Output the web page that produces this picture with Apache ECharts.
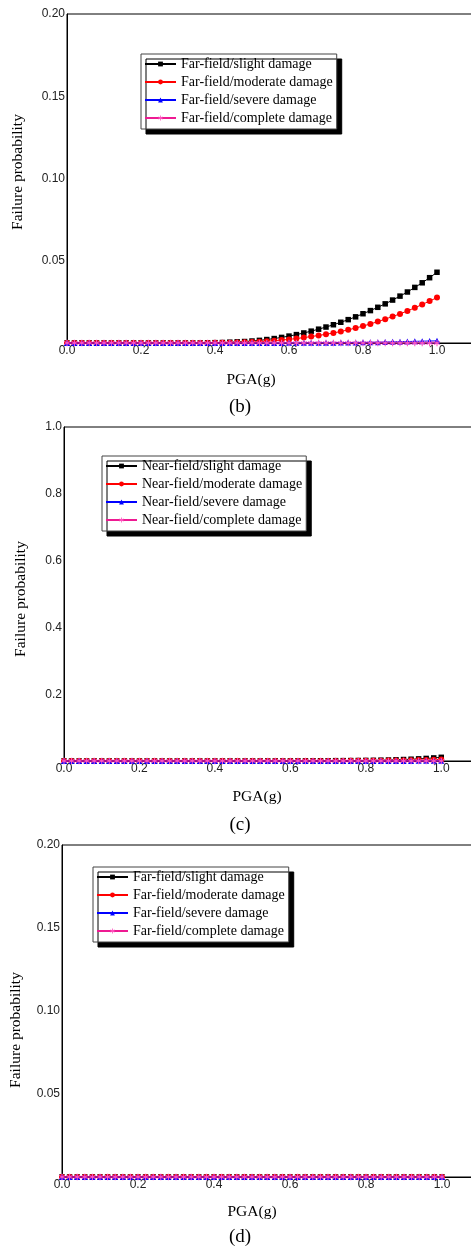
<!DOCTYPE html>
<html>
<head>
<meta charset="utf-8">
<script src="https://cdn.jsdelivr.net/npm/echarts@6/dist/echarts.min.js"></script>
<style>
html, body { margin: 0; padding: 0; background: #fff; }
#chart-panel { width: 471px; height: 1247px; }
</style>
</head>
<body>
<div id="chart-panel"></div>
<script>
/* PGA(g) sample points, shared by all three panels. */
const PGA = [
    0.00, 0.02, 0.04, 0.06, 0.08, 0.10, 0.12, 0.14, 0.16, 0.18,
    0.20, 0.22, 0.24, 0.26, 0.28, 0.30, 0.32, 0.34, 0.36, 0.38,
    0.40, 0.42, 0.44, 0.46, 0.48, 0.50, 0.52, 0.54, 0.56, 0.58,
    0.60, 0.62, 0.64, 0.66, 0.68, 0.70, 0.72, 0.74, 0.76, 0.78,
    0.80, 0.82, 0.84, 0.86, 0.88, 0.90, 0.92, 0.94, 0.96, 0.98,
    1.00
]

/* (b) far-field */
const farSlightB = [
    0, 0, 0, 0, 0, 0, 0, 0, 0, 0,
    0, 0, 0, 0, 0, 0, 0, 0, 0, 0.0001,
    0.0002, 0.0003, 0.0005, 0.0007, 0.0009, 0.0012, 0.0016, 0.0021, 0.0027, 0.0034,
    0.0042, 0.0051, 0.0061, 0.0072, 0.0084, 0.0097, 0.0111, 0.0126, 0.0142, 0.0159,
    0.0178, 0.0197, 0.0217, 0.0238, 0.0261, 0.0285, 0.0310, 0.0338, 0.0366, 0.0397,
    0.0430
]
const farModerateB = [
    0, 0, 0, 0, 0, 0, 0, 0, 0, 0,
    0, 0, 0, 0, 0, 0, 0, 0, 0, 0,
    0.0001, 0.0001, 0.0002, 0.0003, 0.0004, 0.0006, 0.0008, 0.0011, 0.0014, 0.0018,
    0.0022, 0.0027, 0.0033, 0.0039, 0.0046, 0.0053, 0.0061, 0.0070, 0.0080, 0.0091,
    0.0103, 0.0116, 0.0130, 0.0145, 0.0161, 0.0177, 0.0195, 0.0214, 0.0234, 0.0255,
    0.0276
]
const farSevereB = [
    0, 0, 0, 0, 0, 0, 0, 0, 0, 0,
    0, 0, 0, 0, 0, 0, 0, 0, 0, 0,
    0, 0, 0, 0, 0, 0, 0, 0, 0, 0,
    0.0001, 0.0001, 0.0001, 0.0001, 0.0002, 0.0002, 0.0002, 0.0003, 0.0003, 0.0003,
    0.0004, 0.0004, 0.0005, 0.0006, 0.0007, 0.0008, 0.0009, 0.0010, 0.0011, 0.0012,
    0.0013
]
const farCompleteB = [
    0, 0, 0, 0, 0, 0, 0, 0, 0, 0,
    0, 0, 0, 0, 0, 0, 0, 0, 0, 0,
    0, 0, 0, 0, 0, 0, 0, 0, 0, 0,
    0, 0, 0, 0, 0, 0, 0, 0, 0, 0,
    0, 0, 0, 0, 0, 0, 0, 0, 0, 0,
    0
]

/* (c) near-field */
const nearSlightC = [
    0, 0, 0, 0, 0, 0, 0, 0, 0, 0,
    0, 0, 0, 0, 0, 0, 0, 0, 0, 0,
    0, 0, 0.0001, 0.0001, 0.0001, 0.0001, 0.0001, 0.0002, 0.0002, 0.0002,
    0.0003, 0.0004, 0.0005, 0.0006, 0.0007, 0.0008, 0.0010, 0.0011, 0.0013, 0.0015,
    0.0018, 0.0021, 0.0025, 0.0030, 0.0036, 0.0044, 0.0053, 0.0064, 0.0077, 0.0092,
    0.0110
]
const nearModerateC = [
    0, 0, 0, 0, 0, 0, 0, 0, 0, 0,
    0, 0, 0, 0, 0, 0, 0, 0, 0, 0,
    0, 0, 0, 0, 0, 0, 0, 0, 0, 0,
    0.0001, 0.0001, 0.0001, 0.0002, 0.0002, 0.0002, 0.0003, 0.0003, 0.0004, 0.0005,
    0.0006, 0.0008, 0.0010, 0.0012, 0.0015, 0.0018, 0.0022, 0.0027, 0.0033, 0.0040,
    0.0048
]
const nearSevereC = [
    0, 0, 0, 0, 0, 0, 0, 0, 0, 0,
    0, 0, 0, 0, 0, 0, 0, 0, 0, 0,
    0, 0, 0, 0, 0, 0, 0, 0, 0, 0,
    0, 0, 0, 0, 0, 0, 0, 0, 0, 0,
    0.0001, 0.0001, 0.0001, 0.0002, 0.0002, 0.0003, 0.0003, 0.0004, 0.0004, 0.0005,
    0.0006
]
const nearCompleteC = [
    0, 0, 0, 0, 0, 0, 0, 0, 0, 0,
    0, 0, 0, 0, 0, 0, 0, 0, 0, 0,
    0, 0, 0, 0, 0, 0, 0, 0, 0, 0,
    0, 0, 0, 0, 0, 0, 0, 0, 0, 0,
    0, 0, 0, 0, 0, 0, 0, 0, 0, 0,
    0
]

/* (d) far-field, all flat on zero */
const farSlightD = [
    0, 0, 0, 0, 0, 0, 0, 0, 0, 0,
    0, 0, 0, 0, 0, 0, 0, 0, 0, 0,
    0, 0, 0, 0, 0, 0, 0, 0, 0, 0,
    0, 0, 0, 0, 0, 0, 0, 0, 0, 0,
    0, 0, 0, 0, 0, 0, 0, 0, 0, 0,
    0
]
const farModerateD = [
    0, 0, 0, 0, 0, 0, 0, 0, 0, 0,
    0, 0, 0, 0, 0, 0, 0, 0, 0, 0,
    0, 0, 0, 0, 0, 0, 0, 0, 0, 0,
    0, 0, 0, 0, 0, 0, 0, 0, 0, 0,
    0, 0, 0, 0, 0, 0, 0, 0, 0, 0,
    0
]
const farSevereD = [
    0, 0, 0, 0, 0, 0, 0, 0, 0, 0,
    0, 0, 0, 0, 0, 0, 0, 0, 0, 0,
    0, 0, 0, 0, 0, 0, 0, 0, 0, 0,
    0, 0, 0, 0, 0, 0, 0, 0, 0, 0,
    0, 0, 0, 0, 0, 0, 0, 0, 0, 0,
    0
]
const farCompleteD = [
    0, 0, 0, 0, 0, 0, 0, 0, 0, 0,
    0, 0, 0, 0, 0, 0, 0, 0, 0, 0,
    0, 0, 0, 0, 0, 0, 0, 0, 0, 0,
    0, 0, 0, 0, 0, 0, 0, 0, 0, 0,
    0, 0, 0, 0, 0, 0, 0, 0, 0, 0,
    0
]

const FAR_NAMES = ['Far-field/slight damage', 'Far-field/moderate damage', 'Far-field/severe damage', 'Far-field/complete damage']
const NEAR_NAMES = ['Near-field/slight damage', 'Near-field/moderate damage', 'Near-field/severe damage', 'Near-field/complete damage']
const CAPTIONS = ['(b)', '(c)', '(d)']

const SERIF = '"Liberation Serif", "Times New Roman", serif'
const SANS = '"Liberation Sans", Arial, sans-serif'

/* 六角星号: 三根细条, 同向绕行, 可直接填充. */
const STAR = 'path://M-0.8,-5L0.8,-5L0.8,5L-0.8,5Z' +
    'M4.73,1.81L3.93,3.19L-4.73,-1.81L-3.93,-3.19Z' +
    'M-3.93,3.19L-4.73,1.81L3.93,-3.19L4.73,-1.81Z'

/* marker styles for slight / moderate / severe / complete */
const STYLES = [
    { symbol: 'rect', size: 5.5, color: '#000000', line: '#000000' },
    { symbol: 'circle', size: 6, color: '#ff0000', line: '#ff0000' },
    { symbol: 'triangle', size: 6, color: '#0000ff', line: '#0000ff' },
    { symbol: STAR, size: 6.5, color: '#ff55c0', line: '#ee1a92' }
]

/* panel frames */
const PANELS = [
    { left: 67, top: 14, width: 407, height: 329, yMax: 0.2, yStep: 0.05, dec: 2, names: FAR_NAMES,
      series: [farSlightB, farModerateB, farSevereB, farCompleteB],
      legend: { left: 141, top: 54 }, yName: { x: 18, y: 172 }, xName: { x: 251, y: 380 }, cap: { x: 240, y: 407 } },
    { left: 64, top: 427, width: 415, height: 334, yMax: 1.0, yStep: 0.2, dec: 1, names: NEAR_NAMES,
      series: [nearSlightC, nearModerateC, nearSevereC, nearCompleteC],
      legend: { left: 102, top: 456 }, yName: { x: 21, y: 599 }, xName: { x: 257, y: 797 }, cap: { x: 240, y: 825 } },
    { left: 62, top: 845, width: 418, height: 332, yMax: 0.2, yStep: 0.05, dec: 2, names: FAR_NAMES,
      series: [farSlightD, farModerateD, farSevereD, farCompleteD],
      legend: { left: 93, top: 867 }, yName: { x: 16, y: 1030 }, xName: { x: 252, y: 1212 }, cap: { x: 240, y: 1237 } }
]

let grids = [], xAxes = [], yAxes = [], legends = [], series = [], graphics = []

PANELS.forEach((p, idx) => {
    grids.push({
        left: p.left, top: p.top, width: p.width, height: p.height,
        containLabel: false, outerBoundsMode: 'none',
        show: true, borderColor: '#000', borderWidth: 1, backgroundColor: 'transparent'
    })
    xAxes.push({
        type: 'value', gridIndex: idx, min: 0, max: 1.1, interval: 0.2,
        axisLine: { lineStyle: { color: '#000', width: 1 } },
        axisTick: { show: false },
        splitLine: { show: false },
        axisLabel: {
            margin: 2, color: '#222', fontFamily: SANS, fontSize: 12,
            formatter: v => v > 1.0001 ? '' : v.toFixed(1)
        }
    })
    yAxes.push({
        type: 'value', gridIndex: idx, min: 0, max: p.yMax, interval: p.yStep,
        axisLine: { show: true, lineStyle: { color: '#000', width: 1 } },
        axisTick: { show: false },
        splitLine: { show: false },
        axisLabel: {
            margin: 2, color: '#222', fontFamily: SANS, fontSize: 12,
            formatter: v => v === 0 ? '' : v.toFixed(p.dec)
        }
    })
    legends.push({
        orient: 'vertical', left: p.legend.left, top: p.legend.top,
        data: p.names, selectedMode: false,
        itemWidth: 31, itemHeight: 6, itemGap: 4,
        padding: [3, 4, 4, 3],
        backgroundColor: '#fff', borderColor: '#444', borderWidth: 1,
        shadowColor: '#000', shadowBlur: 0, shadowOffsetX: 5, shadowOffsetY: 5,
        textStyle: { fontFamily: SERIF, fontSize: 14, color: '#000' }
    })
    p.series.forEach((vals, k) => {
        let s = STYLES[k]
        series.push({
            name: p.names[k], type: 'line', xAxisIndex: idx, yAxisIndex: idx,
            data: PGA.map((x, i) => [x, vals[i]]),
            symbol: s.symbol, symbolSize: s.size, clip: false,
            itemStyle: { color: s.color },
            lineStyle: { color: s.line, width: 1 },
            z: 2 + k
        })
    })
    graphics.push({
        type: 'text', x: p.yName.x, y: p.yName.y, rotation: Math.PI / 2,
        style: { text: 'Failure probability', font: '15.5px ' + SERIF, fill: '#000', textAlign: 'center', textVerticalAlign: 'middle' }
    })
    graphics.push({
        type: 'text', x: p.xName.x, y: p.xName.y,
        style: { text: 'PGA(g)', font: '15.5px ' + SERIF, fill: '#000', textAlign: 'center', textVerticalAlign: 'middle' }
    })
    graphics.push({
        type: 'text', x: p.cap.x, y: p.cap.y,
        style: { text: CAPTIONS[idx], font: '19px ' + SERIF, fill: '#000', textAlign: 'center', textVerticalAlign: 'middle' }
    })
})

let myChart = echarts.init(document.getElementById('chart-panel'))
myChart.setOption({
    animation: false,
    backgroundColor: '#fff',
    grid: grids,
    xAxis: xAxes,
    yAxis: yAxes,
    legend: legends,
    series: series,
    graphic: graphics
})
</script>
</body>
</html>
